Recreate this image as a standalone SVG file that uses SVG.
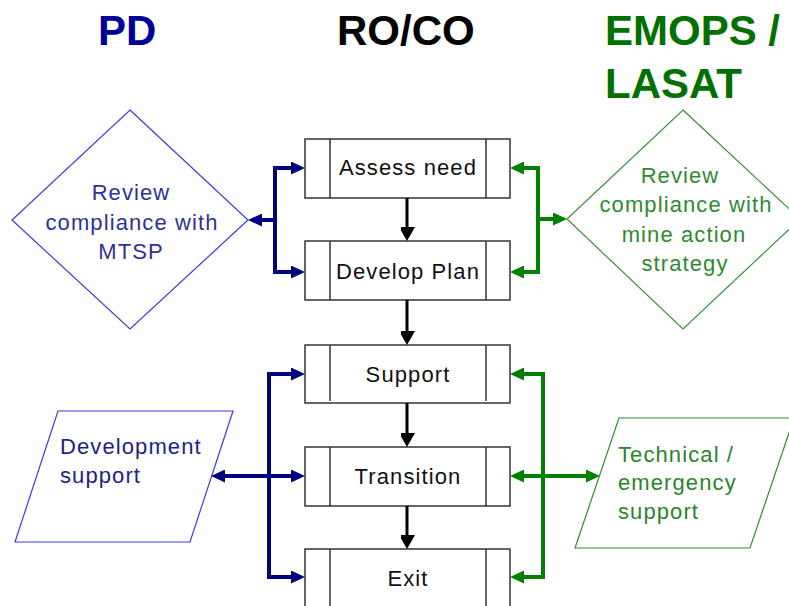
<svg xmlns="http://www.w3.org/2000/svg" width="789" height="606" viewBox="0 0 789 606">
<style>
.hdr{font-family:"Liberation Sans",Arial,sans-serif;font-weight:bold;font-size:42px}
.t{font-family:"Liberation Sans",Arial,sans-serif;font-size:22px;letter-spacing:1.1px}
.box{fill:#fff;stroke:#333;stroke-width:1.5}
.div{stroke:#333;stroke-width:1.5}
.bl{fill:none;stroke:#000080;stroke-width:4}
.gr{fill:none;stroke:#008000;stroke-width:4}
.bk{fill:none;stroke:#000;stroke-width:3}
</style>
<defs>
<marker id="ab" viewBox="0 0 14 13" refX="3" refY="6.5" markerWidth="14" markerHeight="13" markerUnits="userSpaceOnUse" orient="auto-start-reverse"><path d="M0,0 L14,6.5 L0,13 z" fill="#000080"/></marker>
<marker id="ag" viewBox="0 0 14 13" refX="3" refY="6.5" markerWidth="14" markerHeight="13" markerUnits="userSpaceOnUse" orient="auto-start-reverse"><path d="M0,0 L14,6.5 L0,13 z" fill="#008000"/></marker>
<marker id="ak" viewBox="0 0 16 14" refX="3" refY="8" markerWidth="16" markerHeight="14" markerUnits="userSpaceOnUse" orient="auto"><path d="M0,0 L14,8 L0,16 z" fill="#000"/></marker>
</defs>
<rect width="789" height="606" fill="#fff"/>
<g id="headers">
<text class="hdr" x="98" y="45" fill="#000099">PD</text>
<text class="hdr" x="337" y="45" fill="#000">RO/CO</text>
<text class="hdr" x="605" y="45" fill="#007000">EMOPS /</text>
<text class="hdr" x="605" y="98" fill="#007000">LASAT</text>
</g>
<g id="assess">
<rect class="box" x="305" y="139" width="205" height="59"/>
<line class="div" x1="330" y1="139" x2="330" y2="198"/><line class="div" x1="486" y1="139" x2="486" y2="198"/>
<text class="t" x="408" y="175" text-anchor="middle" fill="#111">Assess need</text>
</g>
<g id="develop">
<rect class="box" x="305" y="241" width="205" height="59"/>
<line class="div" x1="330" y1="241" x2="330" y2="300"/><line class="div" x1="486" y1="241" x2="486" y2="300"/>
<text class="t" x="408" y="279" text-anchor="middle" fill="#111">Develop Plan</text>
</g>
<g id="support">
<rect class="box" x="305" y="345" width="205" height="58"/>
<line class="div" x1="330" y1="345" x2="330" y2="401"/><line class="div" x1="486" y1="345" x2="486" y2="401"/>
<text class="t" x="408" y="382" text-anchor="middle" fill="#111">Support</text>
</g>
<g id="transition">
<rect class="box" x="305" y="447" width="205" height="59"/>
<line class="div" x1="330" y1="447" x2="330" y2="506"/><line class="div" x1="486" y1="447" x2="486" y2="506"/>
<text class="t" x="408" y="484" text-anchor="middle" fill="#111">Transition</text>
</g>
<g id="exit">
<rect class="box" x="305" y="549" width="205" height="60"/>
<line class="div" x1="330" y1="549" x2="330" y2="609"/><line class="div" x1="486" y1="549" x2="486" y2="609"/>
<text class="t" x="408" y="586" text-anchor="middle" fill="#111">Exit</text>
</g>
<g id="pd-review">
<polygon points="130,110 248,220 130,329 12,220" fill="#fff" stroke="#3a3af0" stroke-width="1.2"/>
<text class="t" x="131" y="200" text-anchor="middle" fill="#30309a">Review</text>
<text class="t" x="132" y="230" text-anchor="middle" fill="#30309a">compliance with</text>
<text class="t" x="131" y="259" text-anchor="middle" fill="#30309a">MTSP</text>
</g>
<g id="emops-review">
<polygon points="683,110 800,219 683,329 567,219" fill="#fff" stroke="#3a8f3a" stroke-width="1.2"/>
<text class="t" x="680" y="183" text-anchor="middle" fill="#2f8a2f">Review</text>
<text class="t" x="686" y="212" text-anchor="middle" fill="#2f8a2f">compliance with</text>
<text class="t" x="684" y="242" text-anchor="middle" fill="#2f8a2f">mine action</text>
<text class="t" x="685" y="271" text-anchor="middle" fill="#2f8a2f">strategy</text>
</g>
<g id="dev-support">
<polygon points="58,411 233,411 190,542 15,542" fill="#fff" stroke="#3a3af0" stroke-width="1.2"/>
<text class="t" x="60" y="454" fill="#1e1e8c">Development</text>
<text class="t" x="60" y="483" fill="#1e1e8c">support</text>
</g>
<g id="tech-support">
<polygon points="619,418 794,418 750,548 575,548" fill="#fff" stroke="#2f8f2f" stroke-width="1.2"/>
<text class="t" x="618" y="462" fill="#2a852a">Technical /</text>
<text class="t" x="618" y="490" fill="#2a852a">emergency</text>
<text class="t" x="618" y="519" fill="#2a852a">support</text>
</g>
<g id="connectors">
<path class="bk" d="M407,198 V230" marker-end="url(#ak)"/>
<path class="bk" d="M407,300 V334" marker-end="url(#ak)"/>
<path class="bk" d="M407,403 V436" marker-end="url(#ak)"/>
<path class="bk" d="M407,506 V538" marker-end="url(#ak)" stroke-width="4"/>
<path class="bl" d="M294,168 H275 V272 H294" marker-start="url(#ab)" marker-end="url(#ab)"/>
<path class="bl" d="M275,220 H259" marker-end="url(#ab)"/>
<path class="gr" d="M521,168 H538 V272 H521" marker-start="url(#ag)" marker-end="url(#ag)"/>
<path class="gr" d="M538,219 H556" marker-end="url(#ag)"/>
<path class="bl" d="M294,374 H269 V577 H294" marker-start="url(#ab)" marker-end="url(#ab)"/>
<path class="bl" d="M222,476 H294" stroke-width="3" marker-start="url(#ab)" marker-end="url(#ab)"/>
<path class="gr" d="M521,374 H543 V577 H521" marker-start="url(#ag)" marker-end="url(#ag)"/>
<path class="gr" d="M521,476 H589" stroke-width="3" marker-start="url(#ag)" marker-end="url(#ag)"/>
</g>
</svg>
